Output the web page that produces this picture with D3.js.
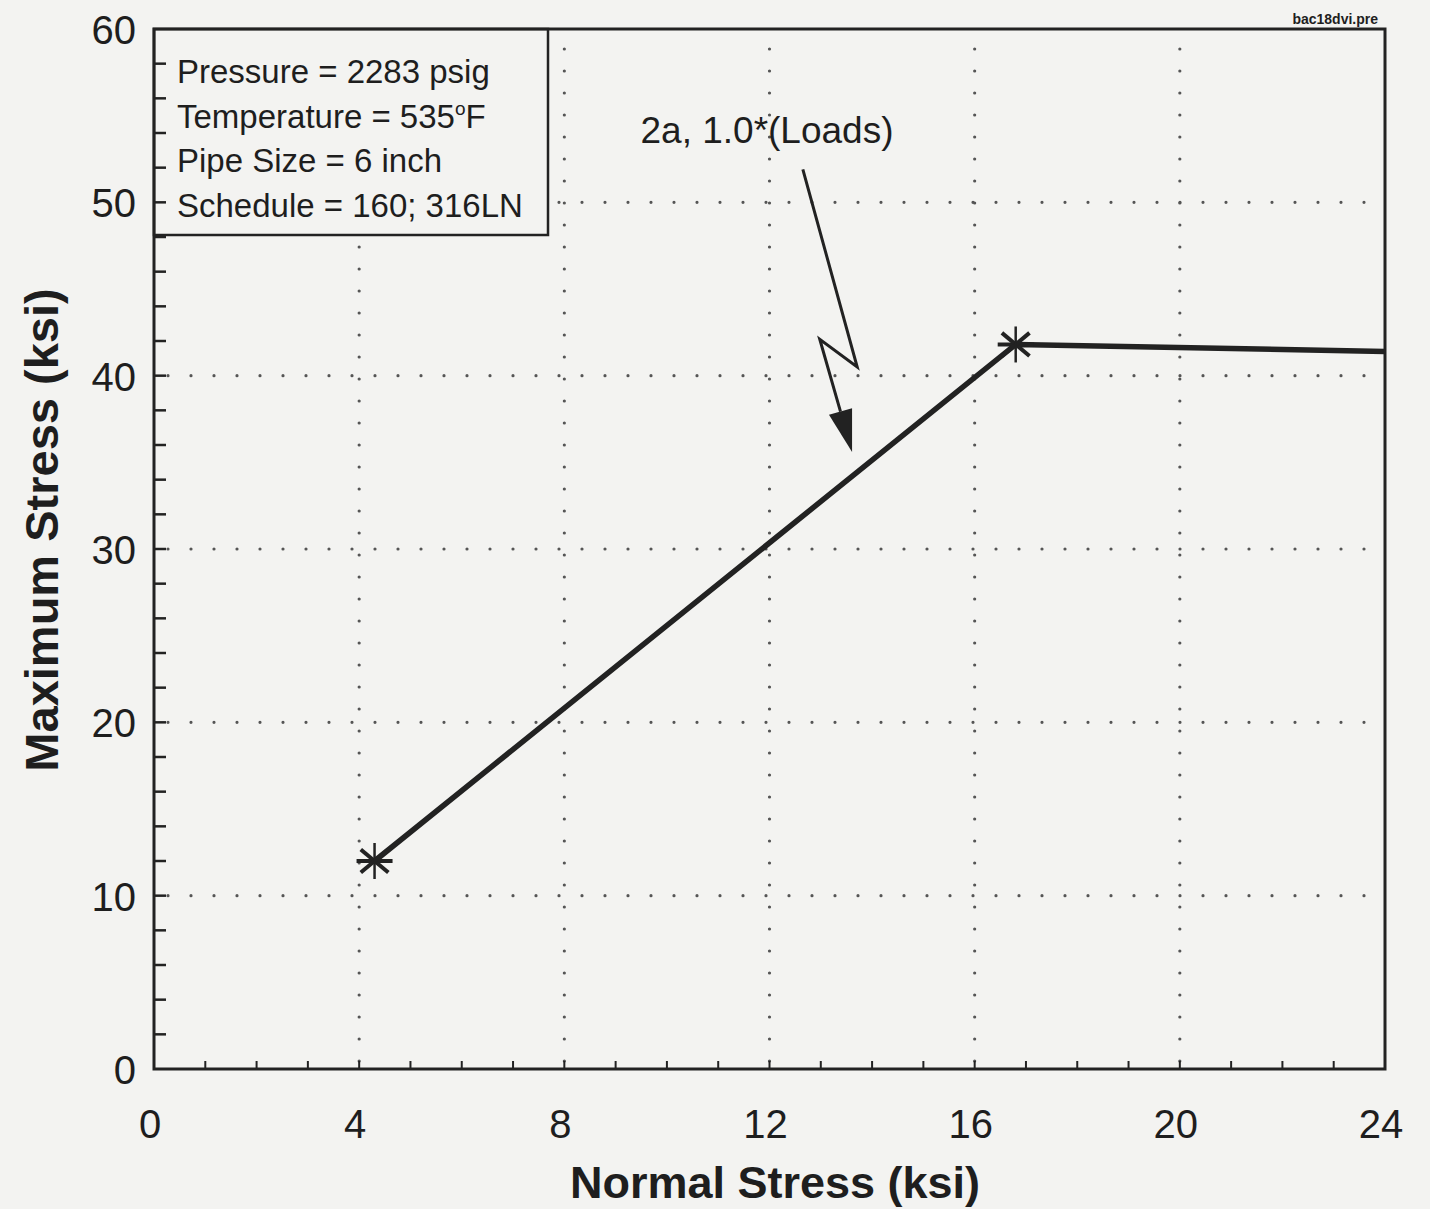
<!DOCTYPE html>
<html>
<head>
<meta charset="utf-8">
<script src="https://cdn.jsdelivr.net/npm/d3@7"></script>
<style>
  body { margin: 0; background: #f3f3f1; }
  text { font-family: "Liberation Sans", Arial, sans-serif; fill: #1e1e1e; }
</style>
</head>
<body>
<div id="grafico"></div>
<script>
const width = 1430
const height = 1209

// data
const xTicks = [0, 4, 8, 12, 16, 20, 24]
const yTicks = [0, 10, 20, 30, 40, 50, 60]
const normalStress = [4.3, 16.8, 24]
const maxStress = [12.0, 41.8, 41.4]
const legendLines = ['Pressure = 2283 psig', 'Temperature = 535', 'Pipe Size = 6 inch', 'Schedule = 160; 316LN']
const arrowX = [12.65, 13.71, 12.98, 13.61]
const arrowY = [51.9, 40.5, 42.1, 35.6]

const svg = d3.select('#grafico').append('svg')
              .attr('width', width)
              .attr('height', height)

svg.append('rect').attr('width', width).attr('height', height).attr('fill', '#f3f3f1')

const x = d3.scaleLinear().domain([0, 24]).range([154, 1385])
const y = d3.scaleLinear().domain([0, 60]).range([1069, 29])

const ink = '#222'

// dotted grid
svg.append('g').selectAll('line')
   .data(xTicks.slice(1, -1))
   .enter().append('line')
   .attr('x1', d => x(d)).attr('x2', d => x(d))
   .attr('y1', y(0) - 8).attr('y2', y(60) + 14)
   .attr('stroke', '#555').attr('stroke-width', 3.2)
   .attr('stroke-linecap', 'round').attr('stroke-dasharray', '0,22')

svg.append('g').selectAll('line')
   .data(yTicks.slice(1, -1))
   .enter().append('line')
   .attr('x1', x(0) + 14).attr('x2', x(24))
   .attr('y1', d => y(d)).attr('y2', d => y(d))
   .attr('stroke', '#555').attr('stroke-width', 3.2)
   .attr('stroke-linecap', 'round').attr('stroke-dasharray', '0,23')

// legend box (opaque, hides the grid behind it)
svg.append('rect')
   .attr('x', x(0)).attr('y', y(60))
   .attr('width', 394).attr('height', 206)
   .attr('fill', '#f3f3f1').attr('stroke', ink).attr('stroke-width', 2.5)

// minor ticks
svg.append('g').selectAll('line')
   .data(d3.range(2, 60, 2))
   .enter().append('line')
   .attr('x1', x(0)).attr('x2', x(0) + 12)
   .attr('y1', d => y(d)).attr('y2', d => y(d))
   .attr('stroke', ink).attr('stroke-width', 2.5)

svg.append('g').selectAll('line')
   .data(d3.range(1, 24, 1))
   .enter().append('line')
   .attr('x1', d => x(d)).attr('x2', d => x(d))
   .attr('y1', y(0)).attr('y2', y(0) - 8)
   .attr('stroke', ink).attr('stroke-width', 2)

// frame
svg.append('rect')
   .attr('x', x(0)).attr('y', y(60))
   .attr('width', x(24) - x(0)).attr('height', y(0) - y(60))
   .attr('fill', 'none').attr('stroke', ink).attr('stroke-width', 3)

// tick labels
svg.append('g').selectAll('text')
   .data(xTicks)
   .enter().append('text')
   .attr('x', d => x(d) - 4).attr('y', 1138)
   .attr('text-anchor', 'middle')
   .style('font-size', '40px')
   .text(d => d)

svg.append('g').selectAll('text')
   .data(yTicks)
   .enter().append('text')
   .attr('x', 136).attr('y', d => y(d) + 15)
   .attr('text-anchor', 'end')
   .style('font-size', '40px')
   .text(d => d)

// axis titles
svg.append('text')
   .attr('x', 775).attr('y', 1198)
   .attr('text-anchor', 'middle')
   .style('font-size', '45px').style('font-weight', 'bold')
   .text('Normal Stress (ksi)')

svg.append('text')
   .attr('transform', 'translate(58,530) rotate(-90)')
   .attr('text-anchor', 'middle')
   .style('font-size', '47px').style('font-weight', 'bold')
   .text('Maximum Stress (ksi)')

const legend = svg.append('g').selectAll('text')
   .data(legendLines)
   .enter().append('text')
   .attr('x', 177).attr('y', (d, i) => 83 + i * 44.7)
   .style('font-size', '33px')
   .text(d => d)

legend.filter((d, i) => i == 1).append('tspan')
   .attr('dy', -13).style('font-size', '19px').text('o')
legend.filter((d, i) => i == 1).append('tspan')
   .attr('dy', 13).text('F')

// file tag
svg.append('text')
   .attr('x', 1378).attr('y', 24)
   .attr('text-anchor', 'end')
   .style('font-size', '14px').style('font-weight', 'bold')
   .text('bac18dvi.pre')

// data line
const pts = normalStress.map((d, i) => [x(d), y(maxStress[i])])
svg.append('path')
   .attr('d', d3.line()(pts))
   .attr('fill', 'none').attr('stroke', ink).attr('stroke-width', 5.5)

// asterisk markers
const star = svg.append('g').selectAll('g')
   .data(pts.slice(0, 2))
   .enter().append('g')
   .attr('transform', d => `translate(${d[0]},${d[1]})`)
star.selectAll('line')
   .data([0, 40, 140, 90])
   .enter().append('line')
   .attr('x1', a => -18 * Math.cos(a * Math.PI / 180))
   .attr('y1', a => -18 * Math.sin(a * Math.PI / 180))
   .attr('x2', a => 18 * Math.cos(a * Math.PI / 180))
   .attr('y2', a => 18 * Math.sin(a * Math.PI / 180))
   .attr('stroke', ink).attr('stroke-width', (a) => a == 90 ? 2.5 : 4)

// annotation
svg.append('text')
   .attr('x', 767).attr('y', 143)
   .attr('text-anchor', 'middle')
   .style('font-size', '37px')
   .text('2a, 1.0*(Loads)')

const arrowPts = arrowX.map((d, i) => [x(d), y(arrowY[i])])
const tip = arrowPts[arrowPts.length - 1]
const prev = arrowPts[arrowPts.length - 2]
const ang = Math.atan2(tip[1] - prev[1], tip[0] - prev[0])
const headLen = 42, headW = 12
const base = [tip[0] - headLen * Math.cos(ang), tip[1] - headLen * Math.sin(ang)]

svg.append('path')
   .attr('d', d3.line()(arrowPts.slice(0, -1).concat([base])))
   .attr('fill', 'none').attr('stroke', ink).attr('stroke-width', 3)

svg.append('path')
   .attr('d', d3.line()([
      tip,
      [base[0] + headW * Math.sin(ang), base[1] - headW * Math.cos(ang)],
      [base[0] - headW * Math.sin(ang), base[1] + headW * Math.cos(ang)]
   ]) + 'Z')
   .attr('fill', ink)
</script>
</body>
</html>
